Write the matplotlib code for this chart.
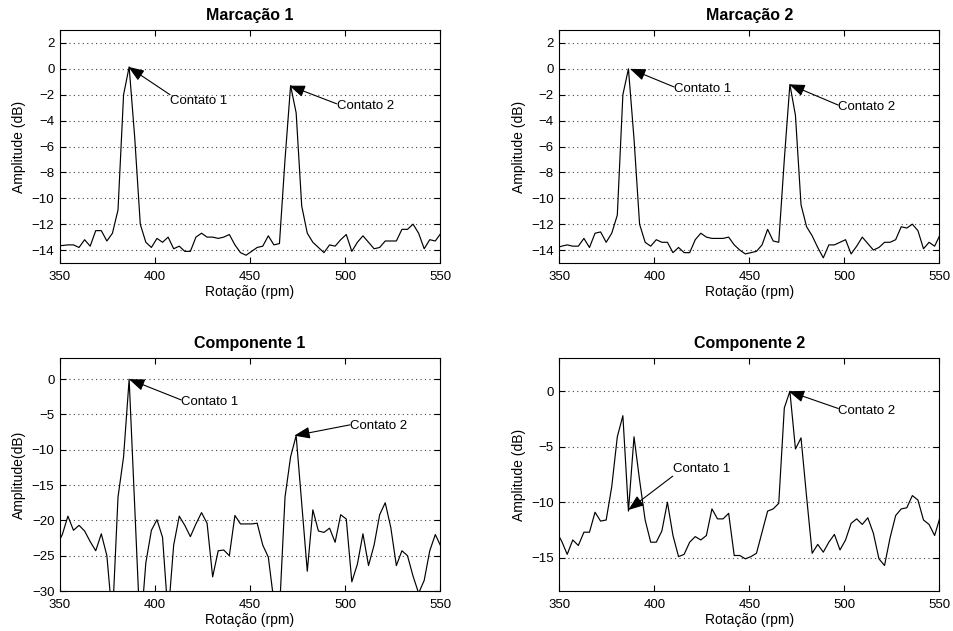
import numpy as np
import matplotlib
matplotlib.use("Agg")
import matplotlib.pyplot as plt

plt.rcParams['font.family'] = ['Liberation Sans', 'DejaVu Sans']

# rotation grid (rpm), evenly sampled
rpm = np.linspace(348.3, 550.47, 70)

marcacao1 = [-13.65, -13.65, -13.6, -13.6, -13.8, -13.2, -13.7, -12.5, -12.5, -13.3,
             -12.7, -10.9, -2.0, 0.15, -5.3, -12.0, -13.4, -13.8, -13.1, -13.4,
             -13.0, -13.9, -13.7, -14.1, -14.1, -13.0, -12.7, -13.0, -13.0, -13.1,
             -13.0, -12.8, -13.6, -14.2, -14.4, -14.1, -13.8, -13.7, -12.9, -13.6,
             -13.5, -7.0, -1.3, -3.4, -10.6, -12.7, -13.4, -13.8, -14.2, -13.6,
             -13.7, -13.2, -12.8, -14.1, -13.4, -12.9, -13.4, -13.9, -13.8, -13.3,
             -13.3, -13.3, -12.4, -12.4, -12.0, -12.7, -13.9, -13.2, -13.3, -12.7]

marcacao2 = [-13.85, -13.7, -13.6, -13.7, -13.7, -13.1, -13.8, -12.7, -12.6, -13.4,
             -12.7, -11.3, -2.0, 0.0, -5.4, -12.0, -13.4, -13.7, -13.2, -13.4,
             -13.4, -14.2, -13.8, -14.2, -14.2, -13.2, -12.7, -13.0, -13.1, -13.1,
             -13.1, -13.0, -13.6, -14.0, -14.3, -14.2, -14.1, -13.6, -12.4, -13.3,
             -13.4, -7.0, -1.2, -3.6, -10.5, -12.2, -12.9, -13.8, -14.6, -13.6,
             -13.6, -13.4, -13.2, -14.3, -13.7, -13.0, -13.5, -14.0, -13.8, -13.4,
             -13.4, -13.2, -12.2, -12.3, -12.0, -12.5, -13.9, -13.4, -13.7, -12.8]

componente1 = [-23.5, -22.0, -19.4, -21.4, -20.7, -21.5, -23.0, -24.3, -21.9, -25.0,
               -34.0, -16.7, -11.0, 0.0, -18.0, -36.0, -26.0, -21.4, -19.9, -22.4,
               -33.5, -23.5, -19.4, -20.7, -22.3, -20.5, -18.9, -20.4, -28.0, -24.3,
               -24.2, -25.0, -19.3, -20.5, -20.5, -20.5, -20.4, -23.5, -25.2, -31.5,
               -33.0, -16.7, -11.0, -8.0, -17.6, -27.2, -18.5, -21.5, -21.7, -21.1,
               -23.1, -19.2, -19.8, -28.7, -26.2, -21.9, -26.4, -23.5, -19.2, -17.5,
               -21.0, -26.4, -24.3, -25.0, -27.9, -30.3, -28.5, -24.3, -22.0, -23.7]

componente2 = [-12.6, -13.5, -14.7, -13.4, -13.9, -12.7, -12.7, -10.9, -11.7, -11.6,
               -8.6, -4.1, -2.2, -10.8, -4.1, -8.0, -11.6, -13.6, -13.6, -12.6,
               -10.0, -13.0, -14.9, -14.7, -13.6, -13.1, -13.4, -13.0, -10.6, -11.5,
               -11.5, -11.0, -14.8, -14.8, -15.1, -14.9, -14.6, -12.7, -10.8, -10.6,
               -10.1, -1.5, 0.0, -5.2, -4.2, -9.5, -14.6, -13.8, -14.5, -13.6,
               -12.9, -14.3, -13.4, -11.9, -11.5, -12.0, -11.4, -12.8, -15.1, -15.7,
               -13.2, -11.2, -10.6, -10.5, -9.4, -9.8, -11.6, -12.0, -13.0, -11.3]

titles = ['Marcação 1', 'Marcação 2', 'Componente 1', 'Componente 2']
ylabels = ['Amplitude (dB)', 'Amplitude (dB)', 'Amplitude(dB)', 'Amplitude (dB)']
xlabel = 'Rotação (rpm)'
series = [marcacao1, marcacao2, componente1, componente2]
ylims = [(-15, 3), (-15, 3), (-30, 3), (-18, 3)]
yticks = [list(range(-14, 3, 2)), list(range(-14, 3, 2)),
          list(range(-30, 1, 5)), [-15, -10, -5, 0]]
xticks = [350, 400, 450, 500, 550]

# annotations: (label, head point, tail point, text y)
annots = [
    [('Contato 1', (386.0, 0.15), (407.9, -2.0), -2.5),
     ('Contato 2', (470.7, -1.3), (495.6, -2.7), -2.85)],
    [('Contato 1', (387.2, 0.0), (410.4, -1.4), -1.55),
     ('Contato 2', (471.0, -1.2), (496.8, -2.8), -2.95)],
    [('Contato 1', (386.3, 0.0), (413.7, -2.93), -3.17),
     ('Contato 2', (473.3, -8.0), (502.6, -6.47), -6.6)],
    [('Contato 1', (386.3, -10.7), (409.7, -7.65), -7.0),
     ('Contato 2', (470.7, 0.0), (496.8, -1.55), -1.76)],
]

W, H = 954, 631
fig = plt.figure(figsize=(W / 100, H / 100), dpi=100)
boxes = [(60, 30), (559.3, 30), (60, 358), (559.3, 358)]
aw, ah = 380, 233

for k in range(4):
    lx, ty = boxes[k]
    ax = fig.add_axes([lx / W, (H - ty - ah) / H, aw / W, ah / H])
    ax.plot(rpm, series[k], color='k', lw=0.85)
    ax.set_xlim(350, 550)
    ax.set_ylim(*ylims[k])
    ax.set_xticks(xticks)
    ax.set_yticks(yticks[k])
    ax.yaxis.grid(True, linestyle=(0, (1, 3)), color='#444444', lw=0.8)
    ax.xaxis.grid(False)
    ax.tick_params(direction='in', top=True, right=True, length=4, width=0.8,
                   labelsize=9.5, pad=4)
    ax.tick_params(axis='x', pad=6)
    for s in ax.spines.values():
        s.set_linewidth(0.8)
    ax.set_title(titles[k], fontsize=11.5, fontweight='bold', pad=7)
    ax.set_xlabel(xlabel, fontsize=10, labelpad=1)
    ax.set_ylabel(ylabels[k], fontsize=10, labelpad=4)
    for label, head, tail, ty_txt in annots[k]:
        ax.annotate('', xy=head, xytext=tail,
                    arrowprops=dict(arrowstyle='-|>,head_length=0.95,head_width=0.36',
                                    color='k', lw=0.8, shrinkA=0, shrinkB=0,
                                    mutation_scale=10))
        ax.text(tail[0], ty_txt, label, ha='left', va='center', fontsize=9.5)

fig.savefig('out.png', dpi=100)
